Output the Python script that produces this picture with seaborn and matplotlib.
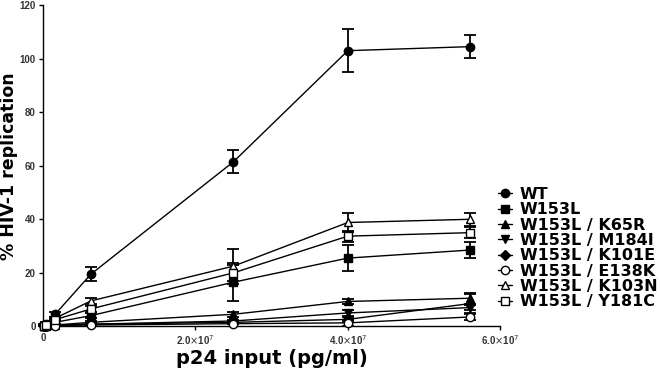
import numpy as np
import pandas as pd
import matplotlib
matplotlib.use("Agg")
import matplotlib.pyplot as plt
import seaborn as sns

# p24 input (pg/ml) for each dilution
p24_input = [0.1e6, 0.4e6, 1.6e6, 6.3e6, 25e6, 40e6, 56e6]

wt = [0.5, 1.0, 4.5, 19.5, 61.5, 103.0, 104.5]
wt_err = [0.3, 0.5, 1.0, 2.5, 4.3, 8.0, 4.3]
w153l = [0.2, 0.5, 1.5, 4.0, 16.5, 25.5, 28.5]
w153l_err = [0.1, 0.2, 0.5, 1.0, 7.0, 5.0, 3.0]
k65r = [0.1, 0.2, 0.5, 1.5, 4.5, 9.3, 10.5]
k65r_err = [0.1, 0.1, 0.2, 0.5, 1.0, 1.0, 2.0]
m184i = [0.1, 0.2, 0.4, 0.8, 2.0, 5.0, 7.0]
m184i_err = [0.1, 0.1, 0.2, 0.3, 0.5, 1.0, 1.0]
k101e = [0.1, 0.2, 0.4, 0.8, 1.5, 2.6, 8.5]
k101e_err = [0.1, 0.1, 0.2, 0.3, 0.5, 1.0, 3.5]
e138k = [0.1, 0.2, 0.3, 0.5, 1.0, 1.3, 3.5]
e138k_err = [0.1, 0.1, 0.1, 0.2, 0.3, 1.0, 1.0]
k103n = [0.3, 0.6, 3.0, 9.5, 22.5, 38.8, 40.0]
k103n_err = [0.1, 0.2, 0.5, 1.0, 6.5, 3.5, 2.5]
y181c = [0.2, 0.5, 2.5, 6.5, 20.0, 33.7, 35.0]
y181c_err = [0.1, 0.2, 0.5, 1.0, 3.0, 2.0, 2.0]

labels = ["WT", "W153L", "W153L / K65R", "W153L / M184I",
          "W153L / K101E", "W153L / E138K", "W153L / K103N", "W153L / Y181C"]
values = [wt, w153l, k65r, m184i, k101e, e138k, k103n, y181c]
errors = [wt_err, w153l_err, k65r_err, m184i_err, k101e_err, e138k_err, k103n_err, y181c_err]
markers = ["o", "s", "^", "v", "D", "o", "^", "s"]
filled = [True, True, True, True, True, False, False, False]

sns.set_style("ticks")
plt.rcParams['font.family'] = ['Liberation Sans', 'DejaVu Sans']
plt.rcParams['text.color'] = 'black'
plt.rcParams['axes.labelcolor'] = 'black'

fig = plt.figure(figsize=(6.6, 3.7), dpi=100)
ax = fig.add_axes([0.065, 0.118, 0.693, 0.868])

handles = []
for lab, val, err, mk, fl in zip(labels, values, errors, markers, filled):
    df = pd.DataFrame({"p24": p24_input, "rep": val})
    ms = 6 if mk != "D" else 5
    sns.lineplot(data=df, x="p24", y="rep", ax=ax, color="black", lw=1,
                 marker=mk, markersize=ms, markerfacecolor="black" if fl else "white",
                 markeredgecolor="black", markeredgewidth=1, clip_on=False, zorder=3)
    ax.errorbar(p24_input, val, yerr=err, fmt="none", ecolor="black",
                elinewidth=1.3, capsize=4, capthick=1.3, clip_on=False, zorder=2)
    handles.append(plt.Line2D([], [], color="black", lw=1, marker=mk, markersize=ms,
                              markerfacecolor="black" if fl else "white",
                              markeredgecolor="black"))

ax.set_xlim(0, 6e7)
ax.set_ylim(0, 120)
ax.set_xticks([0, 2e7, 4e7, 6e7])
ax.set_xticklabels(["0", r"2.0$\times$10$^{7}$", r"4.0$\times$10$^{7}$", r"6.0$\times$10$^{7}$"])
ax.set_yticks(range(0, 121, 20))
ax.tick_params(axis="both", labelsize=7, length=3, width=1, pad=2,
               colors="black", labelcolor="#333333")
for t in ax.get_xticklabels() + ax.get_yticklabels():
    t.set_fontweight("bold")

heavy = ["DejaVu Sans"]
ax.set_xlabel("p24 input (pg/ml)", fontsize=14, fontweight="bold", family=heavy)
ax.set_ylabel("% HIV-1 replication", fontsize=12.5, fontweight="bold", family=heavy)
ax.xaxis.set_label_coords(0.5, -0.07, transform=ax.transAxes)
ax.xaxis.label.set_va("top")
ax.yaxis.set_label_coords(-0.074, 0.5, transform=ax.transAxes)
ax.yaxis.label.set_va("center")
for s in ["left", "bottom"]:
    ax.spines[s].set_linewidth(1)
    ax.spines[s].set_color("black")
sns.despine(ax=ax)

fig.legend(handles, labels, loc="upper left", bbox_to_anchor=(0.745, 0.512),
           frameon=False, prop={"weight": "bold", "size": 11.5, "family": heavy},
           handlelength=0.9, handletextpad=0.45, labelspacing=0.02, borderaxespad=0)

fig.savefig("out.png", dpi=100)
